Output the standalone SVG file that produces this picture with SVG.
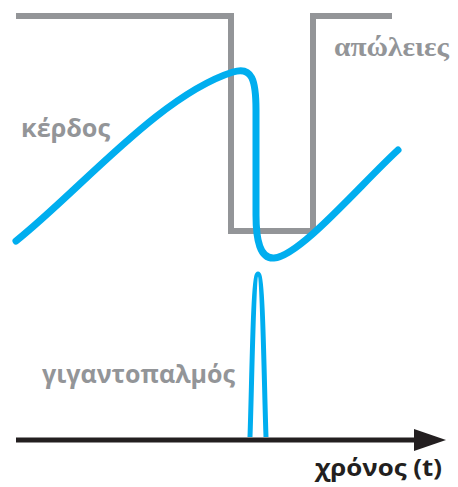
<svg xmlns="http://www.w3.org/2000/svg" width="458" height="487" viewBox="0 0 458 487">
<style>
.gray{fill:none;stroke:#939598;stroke-width:6;stroke-linejoin:miter}
.blue{fill:none;stroke:#00aeef;stroke-width:7;stroke-linecap:round}
.pulse{fill:none;stroke:#00aeef;stroke-width:5}
.lbl{font-family:"Open Sans","DejaVu Sans",sans-serif;fill:#939598;font-weight:bold}
.lbl.serif{font-family:"Liberation Serif","DejaVu Serif",serif}
</style>
<rect width="458" height="487" fill="#ffffff"/>
<g id="losses">
<polyline class="gray" points="16,16 231,16 231,231 313,231 313,16 392,16"/>
<text class="lbl serif" x="334" y="56" font-size="28" textLength="115" lengthAdjust="spacingAndGlyphs">απώλειες</text>
</g>
<g id="gain">
<path class="blue" d="M16,241 C 80,190 160,95 233,72 C 252,66 256,80 256,110 L 256,215 C 256,240 260,259 274,258 C 300,256 360,185 398,150"/>
<text class="lbl" x="21" y="137" font-size="25" textLength="89" lengthAdjust="spacingAndGlyphs">κέρδος</text>
</g>
<g id="pulse">
<path class="pulse" d="M250,437 C 252,380 253,274 258,274 C 263,274 264,380 266,437"/>
<text class="lbl" x="42" y="383" font-size="25" textLength="193" lengthAdjust="spacingAndGlyphs">γιγαντοπαλμός</text>
</g>
<g id="connectors">
<line x1="16" y1="440" x2="420" y2="440" stroke="#231f20" stroke-width="5"/>
<polygon points="414,429 446,440 414,451" fill="#231f20"/>
</g>
<g id="axis-label">
<text x="315" y="476" font-family="'Open Sans','DejaVu Sans',sans-serif" font-size="24" font-weight="bold" fill="#231f20" textLength="127" lengthAdjust="spacingAndGlyphs">χρόνος (t)</text>
</g>
</svg>
